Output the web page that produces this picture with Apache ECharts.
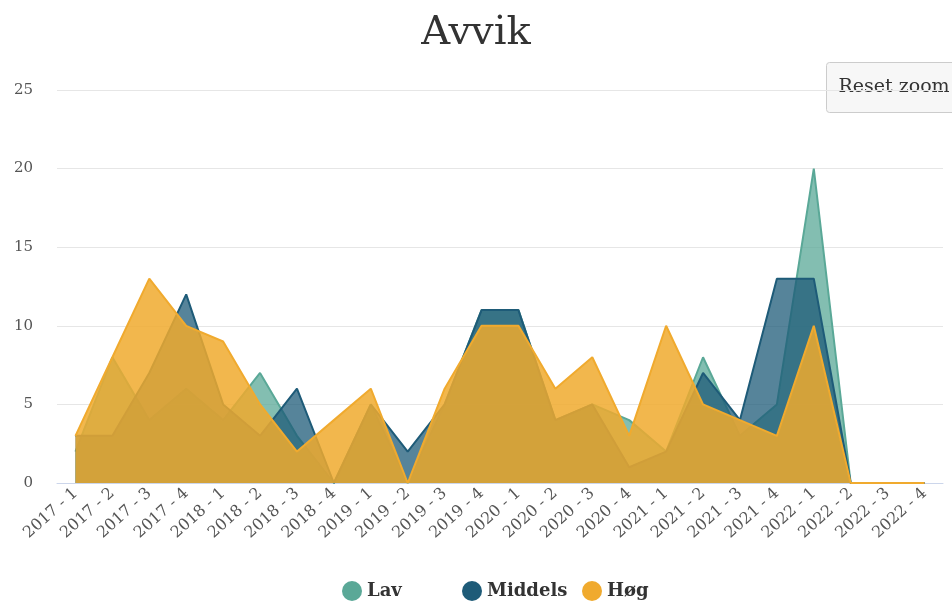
<!DOCTYPE html>
<html>
<head>
<meta charset="utf-8">
<script src="https://cdn.jsdelivr.net/npm/echarts@6/dist/echarts.min.js"></script>
<style>
  html, body { margin: 0; padding: 0; background: #fff; }
  #main { width: 952px; height: 601px; }
</style>
</head>
<body>
<div id="main"></div>
<script>
// kvartaler
const categories = [
    '2017 - 1', '2017 - 2', '2017 - 3', '2017 - 4',
    '2018 - 1', '2018 - 2', '2018 - 3', '2018 - 4',
    '2019 - 1', '2019 - 2', '2019 - 3', '2019 - 4',
    '2020 - 1', '2020 - 2', '2020 - 3', '2020 - 4',
    '2021 - 1', '2021 - 2', '2021 - 3', '2021 - 4',
    '2022 - 1', '2022 - 2', '2022 - 3', '2022 - 4'
];

// avvik per alvorlighetsgrad
const lav     = [2, 8, 4, 6, 4, 7, 3, 0, 5, 0, 5, 11, 11, 4, 5, 4, 2, 8, 3, 5, 20, 0, 0, 0];
const middels = [3, 3, 7, 12, 5, 3, 6, 0, 5, 2, 5, 11, 11, 4, 5, 1, 2, 7, 4, 13, 13, 0, 0, 0];
const hoeg    = [3, 8, 13, 10, 9, 5, 2, 4, 6, 0, 6, 10, 10, 6, 8, 3, 10, 5, 4, 3, 10, 0, 0, 0];

const yTicks = [0, 5, 10, 15, 20, 25];

const serif = '"DejaVu Serif", "Liberation Serif", serif';

const chart = echarts.init(document.getElementById('main'));

// z per serie så hver flate dekker linjene under seg
function areaSeries(name, data, color, opacity, z) {
    return {
        name: name,
        type: 'line',
        z: z,
        data: data,
        symbol: 'none',
        lineStyle: { color: color, width: 2 },
        itemStyle: { color: color },
        areaStyle: { color: color, opacity: opacity }
    };
}

// en legende per serie, plassert som i originalen
function legendItem(name, left) {
    return {
        left: left,
        top: 581,
        padding: 0,
        icon: 'circle',
        itemWidth: 20,
        itemHeight: 20,
        textStyle: { fontFamily: serif, fontSize: 18, fontWeight: 'bold', color: '#333' },
        data: [name]
    };
}

const option = {
    animation: false,
    title: {
        text: 'Avvik',
        left: 'center',
        top: 9,
        textStyle: { fontFamily: serif, fontSize: 40, fontWeight: 'normal', color: '#333' }
    },
    grid: { left: 57, right: 9, top: 90, bottom: 118 },
    legend: [
        legendItem('Lav', 342),
        legendItem('Middels', 462),
        legendItem('Høg', 582)
    ],
    xAxis: {
        type: 'category',
        data: categories,
        boundaryGap: true,
        axisLine: { lineStyle: { color: '#ccd6eb' } },
        axisTick: { show: false },
        axisLabel: {
            interval: 0,
            rotate: 42,
            fontFamily: serif,
            fontSize: 16,
            color: '#555',
            margin: 8
        }
    },
    yAxis: {
        type: 'value',
        min: yTicks[0],
        max: yTicks[yTicks.length - 1],
        interval: 5,
        axisLine: { show: false },
        axisTick: { show: false },
        axisLabel: { fontFamily: serif, fontSize: 15, color: '#555', margin: 24 },
        splitLine: { lineStyle: { color: '#e6e6e6' } }
    },
    series: [
        areaSeries('Lav', lav, '#5aa897', 0.75, 2),
        areaSeries('Middels', middels, '#1e5b78', 0.75, 3),
        areaSeries('Høg', hoeg, '#f0aa2e', 0.85, 4)
    ],
    graphic: [
        {
            type: 'group',
            left: 826,
            top: 62,
            children: [
                {
                    type: 'rect',
                    shape: { x: 0, y: 0, width: 134, height: 50, r: 3 },
                    style: { fill: '#f7f7f7', stroke: '#cccccc', lineWidth: 1 }
                },
                {
                    type: 'text',
                    x: 12,
                    y: 25,
                    style: {
                        text: 'Reset zoom',
                        fill: '#333',
                        font: '19px ' + serif,
                        verticalAlign: 'middle'
                    }
                }
            ]
        }
    ]
};

chart.setOption(option);
</script>
</body>
</html>
